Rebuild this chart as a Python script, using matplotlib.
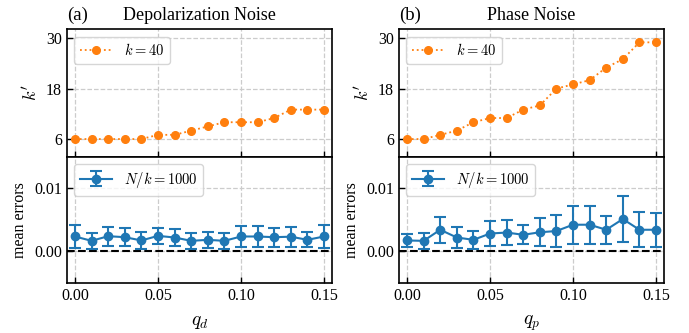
import numpy as np
import matplotlib
matplotlib.use("Agg")
import matplotlib.pyplot as plt

# noise strengths (shared x)
q = [0.00, 0.01, 0.02, 0.03, 0.04, 0.05, 0.06, 0.07,
     0.08, 0.09, 0.10, 0.11, 0.12, 0.13, 0.14, 0.15]

# (a) depolarization noise
kp_dep = [6, 6, 6, 6, 6, 7, 7, 8, 9, 10, 10, 10, 11, 13, 13, 13]
err_dep = [0.00233, 0.00164, 0.00238, 0.00222, 0.00170, 0.00243, 0.00217, 0.00164,
           0.00180, 0.00164, 0.00233, 0.00233, 0.00222, 0.00230, 0.00180, 0.00233]
std_dep = [0.0018, 0.0013, 0.0015, 0.0014, 0.0013, 0.0013, 0.0014, 0.0013,
           0.0013, 0.0013, 0.0016, 0.0017, 0.0015, 0.0016, 0.0012, 0.0019]

# (b) phase noise
kp_ph = [6, 6, 7, 8, 10, 11, 11, 13, 14, 18, 19, 20, 23, 25, 29, 29]
err_ph = [0.0017, 0.00164, 0.0034, 0.00217, 0.0018, 0.0028, 0.00296, 0.0026,
          0.0030, 0.0032, 0.0042, 0.0042, 0.0034, 0.0051, 0.0034, 0.0034]
std_ph = [0.0011, 0.0013, 0.0021, 0.0016, 0.0014, 0.0020, 0.0020, 0.0015,
          0.0022, 0.0025, 0.0030, 0.0030, 0.0022, 0.0036, 0.0028, 0.0027]

plt.rcParams['font.family'] = ['Liberation Serif', 'DejaVu Serif']
plt.rcParams['mathtext.fontset'] = 'cm'
plt.rcParams['font.size'] = 11

fig = plt.figure(figsize=(6.89, 3.33), dpi=100)

panels = [
    (0.0968, "(a)", "Depolarization Noise", "$q_d$", kp_dep, err_dep, std_dep),
    (0.5787, "(b)", "Phase Noise", "$q_p$", kp_ph, err_ph, std_ph),
]
w = 0.3855
for left, tag, title, xlab, kp, err, std in panels:
    ax1 = fig.add_axes([left, 0.5294, w, 0.3826])
    ax2 = fig.add_axes([left, 0.1493, w, 0.3801], sharex=ax1)

    ax1.plot(q, kp, linestyle=':', marker='o', color='#ff7f0e', markersize=5.5,
             linewidth=1.3, label='$k=40$')
    ax1.set_ylim(1.8, 32.1)
    ax1.set_yticks([6, 18, 30])
    ax1.set_ylabel("$k'$", fontsize=13)
    ax1.set_title(tag, loc='left', pad=4, fontsize=13.5)
    ax1.set_title(title, pad=7, fontsize=13)
    ax1.legend(loc='upper left', fancybox=True, edgecolor='#cccccc',
               handlelength=2.2, fontsize=10.5)
    ax1.tick_params(labelbottom=False)

    ax2.errorbar(q, err, yerr=std, marker='o', color='#1f77b4', markersize=6,
                 linewidth=1.5, capsize=4, capthick=1.5, elinewidth=1.5,
                 label='$N/k=1000$')
    ax2.axhline(0, color='black', linestyle='--', linewidth=1.5, zorder=1)
    ax2.set_ylim(-0.0051, 0.0150)
    ax2.set_yticks([0.0, 0.01])
    ax2.set_yticklabels(['0.00', '0.01'])
    ax2.set_ylabel('mean errors', fontsize=11.5)
    ax2.set_xlim(-0.005, 0.155)
    ax2.set_xticks([0.0, 0.05, 0.10, 0.15])
    ax2.set_xticklabels(['0.00', '0.05', '0.10', '0.15'])
    ax2.set_xlabel(xlab, fontsize=14, labelpad=7)
    ax2.legend(loc='upper left', fancybox=True, edgecolor='#cccccc',
               handlelength=2.2, fontsize=10.5)

    for ax in (ax1, ax2):
        ax.grid(True, linestyle='--', color='#cccccc', linewidth=0.9)
        ax.set_axisbelow(True)
        ax.tick_params(direction='in', length=4, width=1, labelsize=11.5)
        for s in ax.spines.values():
            s.set_linewidth(1.2)

fig.savefig('out.png', dpi=100)
